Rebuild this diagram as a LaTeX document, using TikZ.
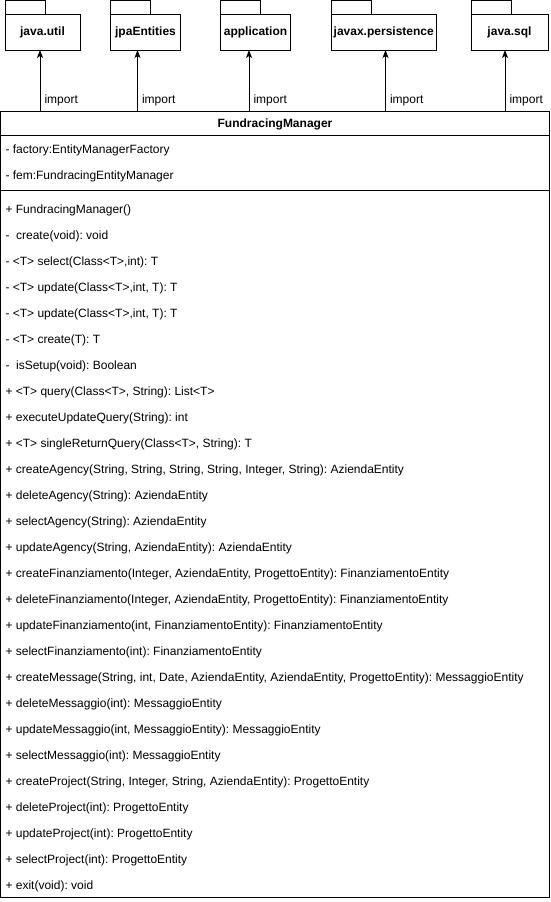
\documentclass[tikz,border=0pt]{standalone}
\usepackage{fontspec}
\setmainfont{Liberation Sans}
\usetikzlibrary{positioning,arrows.meta}
\frenchspacing

\tikzset{
  pkg/.style={draw,rectangle,minimum height=36pt,inner sep=0pt,outer sep=0pt,anchor=north west,
    font=\fontsize{12}{14}\selectfont\bfseries},
  member/.style={anchor=west,inner sep=0pt},
  imp/.style={-{Stealth[length=8pt,width=6pt,inset=2pt]}},
}

\begin{document}
\begin{tikzpicture}[x=1pt,y=-1pt,line width=1pt,font=\fontsize{12}{14}\selectfont]
  \useasboundingbox (0,0) rectangle (551,902);

  % packages
  \foreach \x/\w/\n/\t in {5/75/util/java.util, 110.5/70/jpa/jpaEntities, 220.5/70/app/application,
    331/105.5/persist/javax.persistence, 471/77/sql/java.sql} {
    \node[pkg,minimum width=\w pt] (\n) at (\x,14) {\t};
    \draw (\n.north west) rectangle ++(40,-13.5);
  }

  % class
  \node[draw,rectangle,inner sep=0pt,outer sep=0pt,anchor=north west,minimum width=549pt,minimum height=786pt] (cls) at (0.5,111) {};
  \node (title) at (275,124) {\bfseries FundracingManager};
  \draw (0.5,135) -- (549.5,135);
  \draw (0.5,190) -- (549.5,190);

  % imports
  \foreach \n/\x in {util/40, jpa/137.5, app/249, persist/385.5, sql/505} {
    \coordinate (s\n) at (\x,111);
    \draw[imp] (s\n) -- (s\n |- \n.south);
    \node[member] (l\n) at (\x+4,100) {import};
  }

  \node[member] (a0) at (5,150) {- factory:EntityManagerFactory};
  \node[member] (a1) at (5,176) {- fem:FundracingEntityManager};

  \foreach \t [count=\i from 0] in {{+ FundracingManager()}, {- \ create(void): void},
    {- <T> select(Class<T>,int): T}, {- <T> update(Class<T>,int, T): T}, {- <T> update(Class<T>,int, T): T},
    {- <T> create(T): T}, {- \ isSetup(void): Boolean}, {+ <T> query(Class<T>, String): List<T>},
    {+ executeUpdateQuery(String): int}, {+ <T> singleReturnQuery(Class<T>, String): T},
    {+ createAgency(String, String, String, String, Integer, String): AziendaEntity},
    {+ deleteAgency(String): AziendaEntity}, {+ selectAgency(String): AziendaEntity},
    {+ updateAgency(String, AziendaEntity): AziendaEntity},
    {+ createFinanziamento(Integer, AziendaEntity, ProgettoEntity): FinanziamentoEntity},
    {+ deleteFinanziamento(Integer, AziendaEntity, ProgettoEntity): FinanziamentoEntity},
    {+ updateFinanziamento(int, FinanziamentoEntity): FinanziamentoEntity},
    {+ selectFinanziamento(int): FinanziamentoEntity},
    {+ createMessage(String, int, Date, AziendaEntity, AziendaEntity, ProgettoEntity): MessaggioEntity},
    {+ deleteMessaggio(int): MessaggioEntity}, {+ updateMessaggio(int, MessaggioEntity): MessaggioEntity},
    {+ selectMessaggio(int): MessaggioEntity},
    {+ createProject(String, Integer, String, AziendaEntity): ProgettoEntity},
    {+ deleteProject(int): ProgettoEntity}, {+ updateProject(int): ProgettoEntity},
    {+ selectProject(int): ProgettoEntity}, {+ exit(void): void}}
    \node[member] (m\i) at (5,210+26*\i) {\t};

\end{tikzpicture}
\end{document}
